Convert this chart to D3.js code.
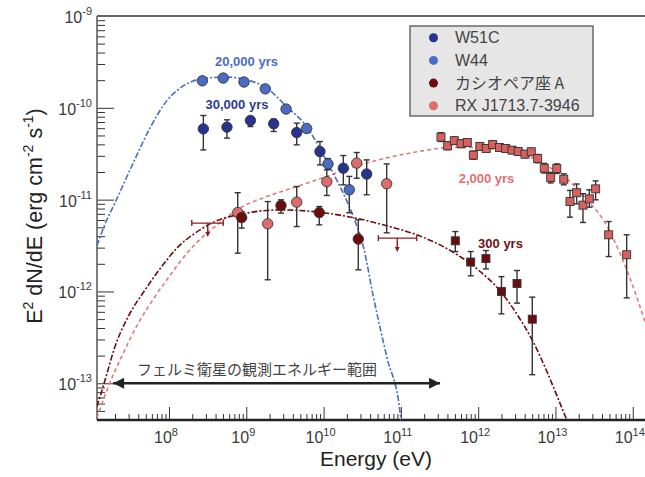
<!DOCTYPE html>
<html><head><meta charset="utf-8">
<script src="https://cdn.jsdelivr.net/npm/d3@7"></script>
<style>body{margin:0;background:#fff}svg{display:block}</style>
</head><body><svg id="c" width="645" height="477"></svg>
<script>
// ---------- tick data ----------
const xTicks = [1e8,1e9,1e10,1e11,1e12,1e13,1e14];
const xTickExp = ["8","9","10","11","12","13","14"];
const yTicks = [1e-13,1e-12,1e-11,1e-10,1e-9];
const yTickExp = ["-13","-12","-11","-10","-9"];
const xDomain = [1.17e7, 1.44e14];
const yDomain = [3.98e-14, 1e-9];

// ---------- W51C (circles) ----------
const w51cE  = [2.78e8,5.62e8,1.13e9,2.26e9,4.49e9,8.97e9,1.80e10,3.61e10];
const w51cF  = [5.9e-11,6.16e-11,7.28e-11,6.7e-11,5.38e-11,3.34e-11,2.2e-11,1.9e-11];
const w51cLo = [3.48e-11,4.68e-11,6.25e-11,5.52e-11,3.95e-11,2.39e-11,1.45e-11,1.13e-11];
const w51cHi = [8.25e-11,7.4e-11,8.04e-11,7.53e-11,6.81e-11,4.29e-11,3.02e-11,2.71e-11];

// ---------- W44 (circles) ----------
const w44E  = [2.70e8,5.03e8,9.33e8,1.76e9,3.27e9,6.04e9,1.14e10,2.15e10];
const w44F  = [1.97e-10,2.11e-10,1.91e-10,1.61e-10,9.7e-11,5.95e-11,2.45e-11,1.28e-11];
const w44Lo = [1.85e-10,1.98e-10,1.8e-10,1.5e-10,9.0e-11,5.5e-11,2.15e-11,7.2e-12];
const w44Hi = [2.1e-10,2.25e-10,2.03e-10,1.72e-10,1.05e-10,6.4e-11,2.8e-11,1.79e-11];

// ---------- Cas A (circles, Fermi) ----------
const casE  = [8.71e8,2.81e9,8.79e9,2.81e10];
const casF  = [6.38e-12,8.63e-12,7.23e-12,3.72e-12];
const casLo = [4.9e-12,7.13e-12,5.31e-12,1.72e-12];
const casHi = [7.41e-12,9.95e-12,8.41e-12,6.03e-12];
// Cas A upper limits
const casUlE   = [3.17e8, 8.98e10];
const casUlElo = [1.97e8, 5.11e10];
const casUlEhi = [5.03e8, 1.60e11];
const casUlF   = [5.55e-12, 3.81e-12];
// Cas A (squares, TeV)
const casTevE  = [5.06e11,8.0e11,1.26e12,2.0e12,3.18e12,5.01e12];
const casTevF  = [3.56e-12,2.09e-12,2.28e-12,1.0e-12,1.22e-12,4.99e-13];
const casTevLo = [2.72e-12,1.48e-12,1.76e-12,5.7e-13,7.46e-13,1.24e-13];
const casTevHi = [4.49e-12,2.72e-12,2.79e-12,1.45e-12,1.69e-12,8.67e-13];

// ---------- RX J1713.7-3946 (circles, Fermi) ----------
const rxE  = [7.74e8,1.89e9,4.49e9,1.10e10,2.68e10,6.55e10];
const rxF  = [7.23e-12,5.45e-12,9.4e-12,1.57e-11,2.5e-11,1.49e-11];
const rxLo = [2.61e-12,1.34e-12,5.09e-12,1.11e-11,1.71e-11,4.35e-12];
const rxHi = [1.19e-11,9.53e-12,1.39e-11,2.11e-11,3.26e-11,2.45e-11];
// RX J1713 (squares, TeV)
const rxTevE = [3.30e11,4.03e11,4.91e11,6.0e11,7.23e11,8.65e11,1.05e12,1.27e12,1.54e12,1.88e12,2.27e12,2.74e12,3.30e12,4.03e12,4.86e12,5.89e12,7.16e12,8.67e12,1.04e13,1.28e13,1.54e13,1.88e13,2.27e13,2.74e13,3.31e13,4.88e13,8.34e13];
const rxTevF = [4.80e-11,3.86e-11,4.38e-11,4.06e-11,4.19e-11,3.05e-11,3.79e-11,3.61e-11,3.98e-11,3.70e-11,3.61e-11,3.46e-11,3.34e-11,3.13e-11,3.32e-11,2.80e-11,2.20e-11,1.74e-11,2.18e-11,1.67e-11,9.53e-12,1.19e-11,8.71e-12,1.02e-11,1.31e-11,4.14e-12,2.51e-12];
const rxTevLo = [4.3e-11,3.5e-11,4.0e-11,3.7e-11,3.85e-11,2.75e-11,3.5e-11,3.33e-11,3.68e-11,3.42e-11,3.33e-11,3.18e-11,3.06e-11,2.86e-11,3.03e-11,2.52e-11,1.95e-11,1.52e-11,1.93e-11,1.45e-11,6.44e-12,9.0e-12,5.64e-12,8.28e-12,9.95e-12,2.40e-12,8.51e-13];
const rxTevHi = [5.35e-11,4.25e-11,4.8e-11,4.45e-11,4.58e-11,3.38e-11,4.12e-11,3.92e-11,4.32e-11,4.02e-11,3.93e-11,3.77e-11,3.64e-11,3.42e-11,3.62e-11,3.1e-11,2.48e-11,1.98e-11,2.45e-11,1.91e-11,1.26e-11,1.48e-11,1.16e-11,1.28e-11,1.6e-11,5.77e-12,4.14e-12];

// ---------- model curves ----------
const w44ModelE = [1.17e7,1.49e7,2.0e7,3.45e7,5.68e7,9.33e7,1.69e8,3.08e8,5.57e8,1.01e9,1.84e9,3.33e9,6.04e9,1.14e10,1.63e10,2.42e10,3.27e10,4.40e10,6.55e10,9.73e10,1.00e11];
const w44ModelF = [3.14e-12,5.45e-12,9.23e-12,2.52e-11,6.05e-11,1.19e-10,1.82e-10,2.11e-10,2.16e-10,2.02e-10,1.64e-10,1.03e-10,6.25e-11,2.45e-11,1.39e-11,6.55e-12,3.08e-12,8.79e-13,1.95e-13,4.92e-14,3.99e-14];
const casModelE = [1.17e7,1.49e7,2.0e7,2.97e7,4.90e7,8.05e7,1.32e8,2.17e8,3.56e8,1.01e9,2.73e9,7.36e9,2.96e10,6.55e10,1.60e11,3.54e11,5.82e11,1.05e12,1.91e12,3.15e12,5.16e12,7.69e12,1.14e13,1.40e13];
const casModelF = [5.57e-14,1.09e-13,2.51e-13,5.33e-13,1.04e-12,1.87e-12,3.08e-12,4.31e-12,5.55e-12,7.13e-12,7.74e-12,7.41e-12,6.14e-12,5.19e-12,4.14e-12,3.08e-12,2.40e-12,1.66e-12,1.02e-12,5.70e-13,2.82e-13,1.36e-13,6.11e-14,3.99e-14];
const rxModelE = [1.17e7,1.64e7,2.44e7,4.01e7,6.59e7,1.08e8,1.78e8,2.92e8,3.94e8,7.52e8,1.84e9,4.49e9,1.10e10,2.68e10,6.55e10,1.77e11,4.76e11,1.29e12,3.48e12,5.71e12,9.38e12,1.54e13,2.54e13,4.15e13,6.82e13,1.12e14,1.44e14];
const rxModelF = [4.20e-14,9.20e-14,1.95e-13,4.52e-13,8.79e-13,1.58e-12,2.72e-12,4.14e-12,5.09e-12,7.74e-12,1.08e-11,1.39e-11,1.79e-11,2.33e-11,2.85e-11,3.36e-11,3.72e-11,3.62e-11,3.08e-11,2.72e-11,2.11e-11,1.57e-11,9.95e-12,6.03e-12,2.61e-12,8.79e-13,4.67e-13];

// ---------- legend / annotations ----------
const legendNames = ["W51C","W44","カシオペア座 A","RX J1713.7-3946"];
const fermiRange = [1.89e7, 3.21e11];
const fermiLevel = 1e-13;
const fermiLabel = "フェルミ衛星の観測エネルギー範囲";

const C = {w51c:"#27338e", w44:"#4b6cc3", cas:"#6d0c0e", rx:"#df6c6c", rxSq:"#d9605e"};

// ---------- setup ----------
const svg = d3.select("#c");
const L=97, R=645, T=16, B=420;
const xS = d3.scaleLog().domain(xDomain).range([L,R]);
const yS = d3.scaleLog().domain(yDomain).range([B,T]);
const font = "'Liberation Sans', Arial, Helvetica, sans-serif";
const jfont = "'Noto Sans CJK JP', 'Liberation Sans', sans-serif";

const defs = svg.append("defs");
defs.append("clipPath").attr("id","clip")
  .append("rect").attr("x",L).attr("y",T).attr("width",R-L).attr("height",B-T);

function minors(lo, hi){
  const out=[];
  for(let e=Math.floor(Math.log10(lo)); e<=Math.ceil(Math.log10(hi)); e++){
    for(let m=2;m<=9;m++){ const v=m*Math.pow(10,e); if(v>lo && v<hi) out.push(v); }
  }
  return out;
}
const xMinor = minors(xDomain[0], xDomain[1]);
const yMinor = minors(yDomain[0], yDomain[1]);

function styleAxis(g){ g.select(".domain").remove(); g.selectAll("line").attr("stroke","#333").attr("stroke-width",1); }

svg.append("g").attr("transform",`translate(0,${B})`)
  .call(d3.axisTop(xS).tickValues(xMinor).tickSize(6).tickFormat("")).call(styleAxis);
svg.append("g").attr("transform",`translate(0,${B})`)
  .call(d3.axisTop(xS).tickValues(xTicks).tickSize(13).tickFormat("")).call(styleAxis);
svg.append("g").attr("transform",`translate(${L},0)`)
  .call(d3.axisRight(yS).tickValues(yMinor).tickSize(8).tickFormat("")).call(styleAxis);
svg.append("g").attr("transform",`translate(${L},0)`)
  .call(d3.axisRight(yS).tickValues(yTicks.filter(v=>v<1e-9)).tickSize(17).tickFormat("")).call(styleAxis);

// frame
svg.append("line").attr("x1",L).attr("x2",R).attr("y1",T).attr("y2",T).attr("stroke","#333").attr("stroke-width",1.5);
svg.append("line").attr("x1",L).attr("x2",L).attr("y1",T).attr("y2",B).attr("stroke","#555").attr("stroke-width",1.5);
svg.append("line").attr("x1",L).attr("x2",R).attr("y1",B).attr("y2",B).attr("stroke","#222").attr("stroke-width",2.5);

// tick labels
xTicks.forEach((v,i)=>{
  const t = svg.append("text").attr("x",xS(v)-3).attr("y",443).attr("text-anchor","middle")
    .attr("font-family",font).attr("font-size",16).attr("fill","#3a3a3a");
  t.append("tspan").text("10");
  t.append("tspan").attr("dy",-7).attr("font-size",11).text(xTickExp[i]);
});
yTicks.forEach((v,i)=>{
  const t = svg.append("text").attr("x",92).attr("y",yS(v)+7).attr("text-anchor","end")
    .attr("font-family",font).attr("font-size",16).attr("fill","#3a3a3a");
  t.append("tspan").text("10");
  t.append("tspan").attr("dy",-8).attr("font-size",11).text(yTickExp[i]);
});

// axis titles
svg.append("text").attr("x",376).attr("y",466).attr("text-anchor","middle")
  .attr("font-family",font).attr("font-size",21).attr("fill","#222").text("Energy (eV)");
{
  const t = svg.append("text").attr("transform","translate(42,216) rotate(-90)").attr("text-anchor","middle")
    .attr("font-family",font).attr("font-size",21.5).attr("fill","#222");
  t.append("tspan").text("E");
  t.append("tspan").attr("dy",-9).attr("font-size",14).text("2");
  t.append("tspan").attr("dy",9).text(" dN/dE (erg cm");
  t.append("tspan").attr("dy",-9).attr("font-size",14).text("-2");
  t.append("tspan").attr("dy",9).text(" s");
  t.append("tspan").attr("dy",-9).attr("font-size",14).text("-1");
  t.append("tspan").attr("dy",9).text(")");
}

// curves
const plot = svg.append("g").attr("clip-path","url(#clip)");
const line = d3.line().x(d=>xS(d[0])).y(d=>yS(d[1])).curve(d3.curveMonotoneX);
function curve(E,F,col,dash){
  plot.append("path").datum(E.map((e,i)=>[e,F[i]])).attr("d",line)
    .attr("fill","none").attr("stroke",col).attr("stroke-width",1.6).attr("stroke-dasharray",dash);
}
curve(rxModelE, rxModelF, "#e07a78", "4,3");
curve(casModelE, casModelF, "#6d0c0e", "6,2,2,2");
curve(w44ModelE, w44ModelF, "#4b6cc3", "6,2,2,2");

// Fermi arrow
defs.append("marker").attr("id","ah").attr("viewBox","0 0 10 10").attr("refX",10).attr("refY",5)
  .attr("markerWidth",12).attr("markerHeight",11).attr("markerUnits","userSpaceOnUse").attr("orient","auto-start-reverse")
  .append("path").attr("d","M0,0L10,5L0,10Z").attr("fill","#222");
svg.append("line").attr("x1",xS(fermiRange[0])).attr("x2",xS(fermiRange[1]))
  .attr("y1",yS(fermiLevel)).attr("y2",yS(fermiLevel)).attr("stroke","#222").attr("stroke-width",2.5)
  .attr("marker-start","url(#ah)").attr("marker-end","url(#ah)");
svg.append("text").attr("x",137).attr("y",375).attr("font-family",jfont).attr("font-size",15)
  .attr("fill","#444").text(fermiLabel);

// error bars
function errs(E,lo,hi){
  const g = svg.append("g").attr("stroke","#333").attr("stroke-width",1.4);
  E.forEach((e,i)=>{
    const x=xS(e), y1=yS(lo[i]), y2=yS(hi[i]);
    g.append("line").attr("x1",x).attr("x2",x).attr("y1",y1).attr("y2",y2);
    g.append("line").attr("x1",x-3).attr("x2",x+3).attr("y1",y1).attr("y2",y1);
    g.append("line").attr("x1",x-3).attr("x2",x+3).attr("y1",y2).attr("y2",y2);
  });
}
function circles(E,F,col){
  svg.append("g").selectAll("circle").data(E).join("circle")
    .attr("cx",d=>xS(d)).attr("cy",(d,i)=>yS(F[i])).attr("r",5.2)
    .attr("fill",col).attr("stroke","#333").attr("stroke-width",0.9);
}
function squares(E,F,col){
  svg.append("g").selectAll("rect").data(E).join("rect")
    .attr("x",d=>xS(d)-4).attr("y",(d,i)=>yS(F[i])-4).attr("width",8).attr("height",8)
    .attr("fill",col).attr("stroke","#333").attr("stroke-width",0.9);
}
errs(w51cE,w51cLo,w51cHi);
errs(w44E,w44Lo,w44Hi);
errs(casE,casLo,casHi);
errs(rxE,rxLo,rxHi);
errs(casTevE,casTevLo,casTevHi);
errs(rxTevE,rxTevLo,rxTevHi);

// upper limits
{
  const g = svg.append("g").attr("stroke","#8a2020").attr("stroke-width",1.4);
  casUlE.forEach((e,i)=>{
    const y=yS(casUlF[i]), x1=xS(casUlElo[i]), x2=xS(casUlEhi[i]), x=xS(e);
    g.append("line").attr("x1",x1).attr("x2",x2).attr("y1",y).attr("y2",y);
    g.append("line").attr("x1",x1).attr("x2",x1).attr("y1",y-3).attr("y2",y+3);
    g.append("line").attr("x1",x2).attr("x2",x2).attr("y1",y-3).attr("y2",y+3);
    g.append("line").attr("x1",x).attr("x2",x).attr("y1",y).attr("y2",y+11);
    svg.append("path").attr("d",`M${x-2.5},${y+9}L${x+2.5},${y+9}L${x},${y+14}Z`).attr("fill","#8a2020");
  });
}

circles(rxE,rxF,C.rx);
circles(casE,casF,C.cas);
circles(w44E,w44F,C.w44);
circles(w51cE,w51cF,C.w51c);
squares(casTevE,casTevF,C.cas);
squares(rxTevE,rxTevF,C.rxSq);

// curve labels
function lab(x,y,txt,col){
  svg.append("text").attr("x",x).attr("y",y).attr("text-anchor","middle").attr("font-family",font)
    .attr("font-size",13).attr("font-weight","bold").attr("fill",col).text(txt);
}
lab(246.5,65.5,"20,000 yrs",C.w44);
lab(237,108.5,"30,000 yrs","#2e3b8f");
lab(486.5,182.5,"2,000 yrs","#e07070");
lab(500.5,247.5,"300 yrs","#701214");

// legend
svg.append("rect").attr("x",410).attr("y",26).attr("width",183).attr("height",90)
  .attr("fill","#e6e6e6").attr("stroke","#555").attr("stroke-width",1.3);
const legCols = [C.w51c,C.w44,C.cas,C.rx];
legendNames.forEach((n,i)=>{
  const cy = 37.7 + i*22.7;
  svg.append("circle").attr("cx",433.5).attr("cy",cy).attr("r",4.5).attr("fill",legCols[i]);
  svg.append("text").attr("x",455).attr("y",cy+5.5).attr("font-family", i===2?jfont:font)
    .attr("font-size",16).attr("fill","#444").text(n);
});
</script>
</body></html>
